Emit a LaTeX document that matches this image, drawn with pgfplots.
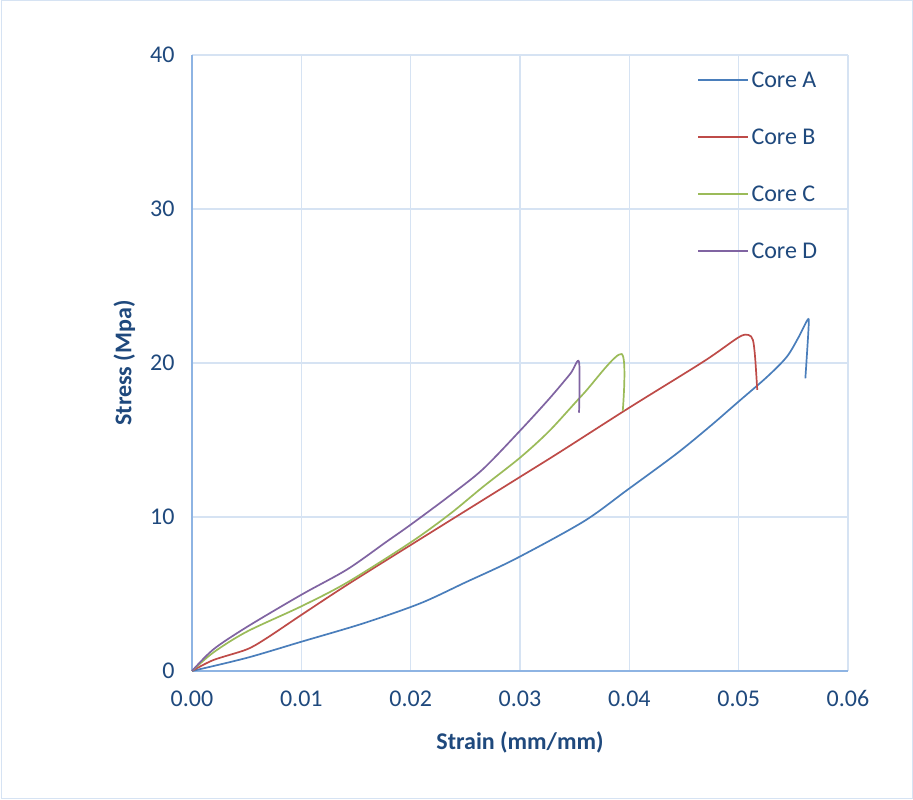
\documentclass[border=0pt]{standalone}
\usepackage{pgfplots}
\pgfplotsset{compat=1.18}
\usepackage{fontspec}
\setmainfont{Carlito}
\definecolor{txt}{HTML}{1F497D}
\definecolor{gridc}{HTML}{D6E3F3}
\definecolor{axc}{HTML}{8EB4E3}
\definecolor{cA}{HTML}{4A7EBB}
\definecolor{cB}{HTML}{BE4B48}
\definecolor{cC}{HTML}{9BBB59}
\definecolor{cD}{HTML}{8064A2}
\begin{document}
\begin{tikzpicture}[x=1pt,y=1pt]
\fill[white] (0,0) rectangle (913,800);
\draw[gridc, line width=1pt] (1,1) rectangle (912,799);
\begin{axis}[
  at={(192pt,129pt)}, anchor=south west,
  scale only axis, width=656pt, height=616pt,
  xmin=0, xmax=0.06, ymin=0, ymax=40,
  xtick={0,0.01,0.02,0.03,0.04,0.05,0.06},
  ytick={0,10,20,30,40},
  scaled ticks=false,
  xticklabel style={/pgf/number format/fixed, /pgf/number format/fixed zerofill, /pgf/number format/precision=2},
  /pgf/number format/assume math mode=true,
  tick label style={font=\fontsize{24}{28}\selectfont, text=txt},
  xticklabel style={yshift=-16pt},
  yticklabel style={xshift=-14pt},
  major tick length=0pt,
  grid=major,
  major grid style={gridc, line width=1.2pt},
  axis line style={axc, line width=1.5pt},
  axis x line*=bottom, axis y line*=left,
  xlabel={\textbf{Strain (mm/mm)}},
  ylabel={\textbf{Stress (Mpa)}},
  label style={font=\fontsize{24}{28}\selectfont, text=txt},
  xlabel style={yshift=-18pt},
  ylabel style={yshift=8pt},
  legend cell align=left,
  legend style={draw=none, fill=none, at={(0.770,0.976)}, anchor=north west,
    font=\fontsize{24}{28}\selectfont, row sep=36pt, inner sep=0pt},
  legend image code/.code={\draw[#1, line width=2.2pt] (0pt,0.5pt) -- (50pt,0.5pt);},
  every axis plot/.append style={line width=1.7pt, smooth, tension=0.5},
  clip=false,
]
\addplot[color=cA] coordinates {
(0,0) (0.0050,0.85) (0.0100,1.9) (0.0157,3.1) (0.0209,4.4) (0.0250,5.75) (0.0295,7.25)
(0.0358,9.7) (0.0398,11.75) (0.0443,14.1) (0.0474,15.9) (0.0500,17.5) (0.0526,19.1)
(0.0544,20.4) (0.0555,21.7) (0.0563,22.8) (0.0564,22.4) (0.0561,19.0)};
\addlegendentry{\textcolor{txt}{Core A}}
\addplot[color=cB] coordinates {
(0,0) (0.00195,0.71) (0.0050,1.4) (0.0068,2.12) (0.0100,3.64) (0.0142,5.6) (0.0200,8.18)
(0.0300,12.6) (0.0337,14.24) (0.0400,17.1) (0.0468,20.1) (0.0500,21.67) (0.0509,21.82)
(0.0513,21.5) (0.0515,20.4) (0.0517,18.25)};
\addlegendentry{\textcolor{txt}{Core B}}
\addplot[color=cC] coordinates {
(0,0) (0.00195,1.2) (0.0050,2.55) (0.0100,4.2) (0.0142,5.75) (0.0200,8.35) (0.0236,10.2)
(0.0266,11.95) (0.0300,13.85) (0.0327,15.6) (0.0358,18.0) (0.0393,20.58) (0.0394,16.9)};
\addlegendentry{\textcolor{txt}{Core C}}
\addplot[color=cD] coordinates {
(0,0) (0.00195,1.4) (0.0050,2.85) (0.0100,4.95) (0.0142,6.6) (0.0178,8.4) (0.0200,9.5)
(0.0236,11.4) (0.0266,13.1) (0.0300,15.6) (0.0327,17.7) (0.0346,19.3) (0.0354,20.06) (0.0354,16.77)};
\addlegendentry{\textcolor{txt}{Core D}}
\end{axis}
\end{tikzpicture}
\end{document}
